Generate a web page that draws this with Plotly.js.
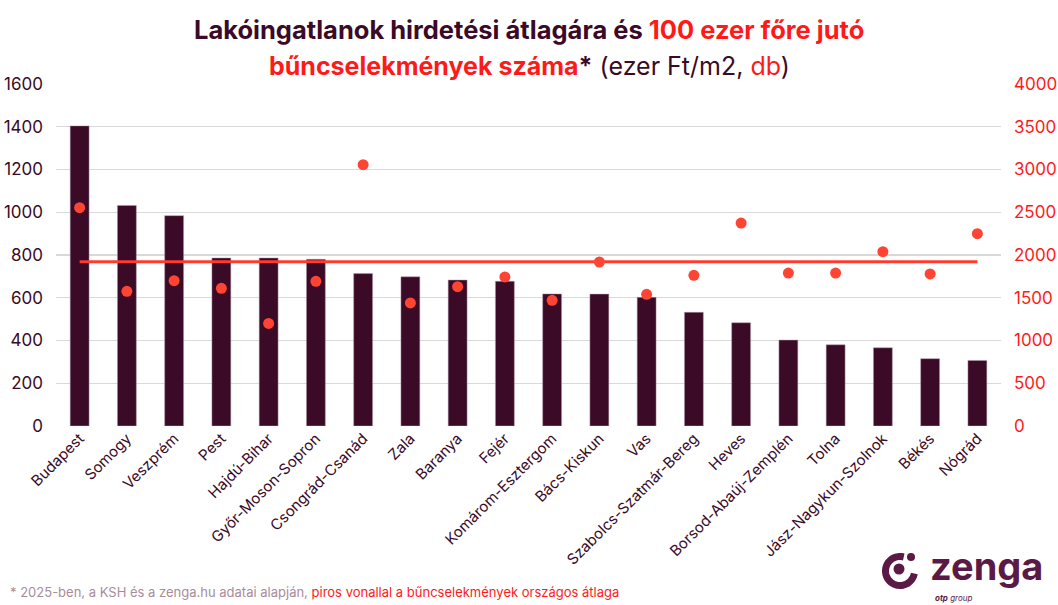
<!DOCTYPE html>
<html>
<head>
<meta charset="utf-8">
<script src="https://cdn.plot.ly/plotly-3.0.1.min.js"></script>
<style>
html,body{margin:0;padding:0;background:#fff;}
#chart{width:1058px;height:605px;}
</style>
</head>
<body>
<div id="chart"></div>
<script>
const counties = ["Budapest","Somogy","Veszprém","Pest","Hajdú-Bihar","Győr-Moson-Sopron","Csongrád-Csanád","Zala","Baranya","Fejér","Komárom-Esztergom","Bács-Kiskun","Vas","Szabolcs-Szatmár-Bereg","Heves","Borsod-Abaúj-Zemplén","Tolna","Jász-Nagykun-Szolnok","Békés","Nógrád"];
const avgPrice = [1404,1032,984,786,786,780,713,698,683,677,618,617,602,532,483,402,380,366,315,307];
const crimes = [2553,1575,1700,1610,1200,1692,3056,1440,1630,1743,1470,1918,1540,1762,2374,1789,1789,2039,1778,2249];
const nationalAvgCrime = 1922;
const leftTicks = [0,200,400,600,800,1000,1200,1400,1600];
const rightTicks = [0,500,1000,1500,2000,2500,3000,3500,4000];

const DARK = "#3a0a26";
const RED = "#ff1a1a";
const DOT = "#ff4433";
const LOGO = "#5a1a45";
const FONT = "Inter, 'Open Sans', sans-serif";

const L = 56, R = 1001, T = 84, B = 426;
function px2paper(x, y){ return [(x-L)/(R-L), (B-y)/(B-T)]; }
function arcPath(cx, cy, r, a0, a1, n){
  let s = "";
  for(let i=0;i<=n;i++){
    const a = (a0 + (a1-a0)*i/n)*Math.PI/180;
    const p = px2paper(cx + r*Math.cos(a), cy - r*Math.sin(a));
    s += (i===0?"M ":" L ") + p[0].toFixed(5) + " " + p[1].toFixed(5);
  }
  return s;
}
function circ(cx, cy, r){
  const a = px2paper(cx-r, cy+r), b = px2paper(cx+r, cy-r);
  return {type:"circle", xref:"paper", yref:"paper", x0:a[0], y0:a[1], x1:b[0], y1:b[1], fillcolor:LOGO, line:{width:0}};
}
function ann(x, y, text, font, xanchor){
  const p = px2paper(x, y);
  return {xref:"paper", yref:"paper", x:p[0], y:p[1], xanchor:xanchor||"left", yanchor:"middle", showarrow:false, text:text, font:font};
}

const traces = [
  {type:"bar", x:counties, y:avgPrice, marker:{color:DARK, line:{color:"#b49aa8", width:0.5}}, width:0.4, yaxis:"y"},
  {type:"scatter", mode:"lines", x:[counties[0], counties[counties.length-1]], y:[nationalAvgCrime, nationalAvgCrime], yaxis:"y2", line:{color:"#ff3b2f", width:3}},
  {type:"scatter", mode:"markers", x:counties, y:crimes, yaxis:"y2", marker:{color:DOT, size:11}}
];

const layout = {
  width:1058, height:605,
  margin:{l:L, r:1058-R, t:T, b:605-B},
  paper_bgcolor:"#fff", plot_bgcolor:"#fff",
  showlegend:false,
  font:{family:FONT, color:DARK},
  xaxis:{
    tickangle:-45, tickfont:{size:15, color:DARK, family:FONT}, showgrid:false, zeroline:false,
    showline:false, ticks:"", range:[-0.5, counties.length-0.5]
  },
  yaxis:{
    range:[0,1600], tickvals:leftTicks, ticktext:leftTicks.map(String),
    tickfont:{size:17, color:DARK, family:FONT}, gridcolor:"#d9d9d9", gridwidth:1.2,
    zeroline:false, showline:false, ticks:"", ticklabelstandoff:12
  },
  yaxis2:{
    range:[0,4000], tickvals:rightTicks, ticktext:rightTicks.map(String), overlaying:"y", side:"right",
    tickfont:{size:17, color:RED, family:FONT}, showgrid:false, zeroline:false, showline:false, ticks:"",
    ticklabelstandoff:12
  },
  annotations:[
    ann(529, 30, "<b>Lakóingatlanok hirdetési átlagára és <span style='color:"+RED+"'>100 ezer főre jutó</span></b>", {size:25.5, family:FONT, color:DARK}, "center"),
    ann(529, 66, "<b><span style='color:"+RED+"'>bűncselekmények száma</span>*</b> (ezer Ft/m2, <span style='color:"+RED+"'>db</span>)", {size:25, family:FONT, color:DARK}, "center"),
    ann(8, 592, "<span style='color:#a88c9c'>* 2025-ben, a KSH és a zenga.hu adatai alapján, </span><span style='color:"+RED+"'>piros vonallal a bűncselekmények országos átlaga</span>", {size:13, family:FONT}),
    ann(928, 566, "<b>zenga</b>", {size:38, family:FONT, color:LOGO}),
    ann(933, 598, "<b><i>otp</i></b><i> group</i>", {size:8, family:FONT, color:LOGO})
  ],
  shapes:[
    {type:"path", xref:"paper", yref:"paper", path:arcPath(900, 571, 14.5, 75, 350, 60), line:{color:LOGO, width:7}, fillcolor:"rgba(0,0,0,0)"},
    circ(899, 569, 5.5),
    circ(911, 557, 4)
  ]
};

Plotly.newPlot("chart", traces, layout, {displayModeBar:false, staticPlot:true});
</script>
</body>
</html>
